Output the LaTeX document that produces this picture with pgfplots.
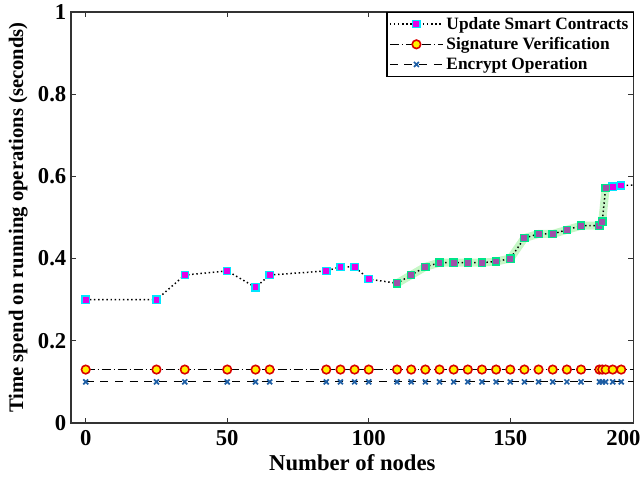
\documentclass[border=0pt]{standalone}
\usepackage{pgfplots}
\pgfplotsset{compat=1.18}
\usepackage{fontspec}
\setmainfont{Liberation Serif}
\definecolor{axgray}{HTML}{333333}
\definecolor{sqedge}{HTML}{00E5FF}
\definecolor{sqfill}{HTML}{E600E6}
\definecolor{hledge}{HTML}{00E58A}
\definecolor{hlfill}{HTML}{A050A8}
\definecolor{hlband}{HTML}{B8F5B8}
\definecolor{crossblue}{HTML}{1F5FA5}
\pgfplotstableread{
x y
0 0.30
25 0.30
35 0.36
50 0.37
60 0.33
65 0.36
85 0.37
90 0.38
95 0.38
100 0.35
110 0.34
115 0.36
120 0.38
125 0.39
130 0.39
135 0.39
140 0.39
145 0.393
150 0.40
155 0.45
160 0.46
165 0.46
170 0.47
175 0.48
181.5 0.48
182.5 0.49
183.7 0.572
186.2 0.575
189.2 0.578
200 0.58
}\smart
\pgfplotstableread{
x y
110 0.34
115 0.36
120 0.38
125 0.39
130 0.39
135 0.39
140 0.39
145 0.393
150 0.40
155 0.45
160 0.46
165 0.46
170 0.47
175 0.48
181.5 0.48
182.5 0.49
183.7 0.572
}\highlight
\pgfplotstableread{
x y
0 0.13
25 0.13
35 0.13
50 0.13
60 0.13
65 0.13
85 0.13
90 0.13
95 0.13
100 0.13
110 0.13
115 0.13
120 0.13
125 0.13
130 0.13
135 0.13
140 0.13
145 0.13
150 0.13
155 0.13
160 0.13
165 0.13
170 0.13
175 0.13
181.5 0.13
182.5 0.13
183.7 0.13
186.2 0.13
189.2 0.13
200 0.13
}\sig
\pgfplotstableread{
x y
0 0.10
25 0.10
35 0.10
50 0.10
60 0.10
65 0.10
85 0.10
90 0.10
95 0.10
100 0.10
110 0.10
115 0.10
120 0.10
125 0.10
130 0.10
135 0.10
140 0.10
145 0.10
150 0.10
155 0.10
160 0.10
165 0.10
170 0.10
175 0.10
181.5 0.10
182.5 0.10
183.7 0.10
186.2 0.10
189.2 0.10
200 0.10
}\enc
\begin{document}
\begin{tikzpicture}
\useasboundingbox (-53.25pt,-45.75pt) rectangle (429pt,317.25pt);
\begin{axis}[
  at={(0pt,0pt)}, anchor=south west,
  scale only axis,
  width=422pt, height=308.25pt,
  xmin=-5.2, xmax=193.6,
  ymin=0, ymax=1,
  xtick={0,50,100,150},
  ytick={0,0.2,0.4,0.6,0.8,1},
  extra x ticks={190},
  extra x tick labels={200},
  extra x tick style={major tick length=0pt},
  tick align=inside,
  tick pos=both,
  major tick length=4pt,
  axis line style={axgray, line width=1.2pt},
  tick style={axgray, line width=1pt},
  /pgf/number format/assume math mode=true,
  ticklabel style={font=\bfseries\fontsize{17}{17}\selectfont},
  xticklabel style={yshift=-2pt},
  xlabel={Number of nodes},
  ylabel={Time spend on running operations (seconds)},
  every axis x label/.style={at={(rel axis cs:0.5,0)}, anchor=center, yshift=-30pt,
    font=\bfseries\fontsize{17}{17}\selectfont},
  every axis y label/.style={at={(rel axis cs:0,0.5)}, anchor=center, xshift=-39.5pt, rotate=90,
    font=\bfseries\fontsize{15.5}{15.5}\selectfont},
  clip marker paths=true,
  legend style={at={(1,1)}, anchor=north east, draw=black, line width=0.8pt,
    font=\bfseries\fontsize{13}{13}\selectfont, inner sep=1.5pt,
    row sep=0.5pt, cells={anchor=west}},
  legend image code/.code={\draw[mark repeat=2,mark phase=2,#1] plot coordinates {(0pt,0pt) (20pt,0pt) (40pt,0pt)};},
]
\addplot[hlband, line width=6pt, opacity=0.8, forget plot] table[x=x,y=y] {\highlight};
\addplot[black, dotted, line width=1.1pt, mark=square*, mark size=2.7pt,
  mark options={solid, draw=sqedge, fill=sqfill, line width=1pt}] table[x=x,y=y] {\smart};
\addlegendentry{Update Smart Contracts}
\addplot[only marks, mark=square*, mark size=2.7pt, forget plot,
  mark options={solid, draw=hledge, fill=hlfill, line width=1pt}] table[x=x,y=y] {\highlight};
\addplot[black, dash pattern=on 7pt off 2pt on 1pt off 2pt, line width=0.9pt, mark=*, mark size=3.2pt,
  mark options={solid, draw=red!85!black, fill=yellow, line width=1.2pt}] table[x=x,y=y] {\sig};
\addlegendentry{Signature Verification}
\addplot[black, dash pattern=on 6pt off 5pt, line width=0.9pt, mark=x, mark size=2.6pt,
  mark options={solid, draw=crossblue, line width=1.3pt}] table[x=x,y=y] {\enc};
\addlegendentry{Encrypt Operation}
\end{axis}
\end{tikzpicture}
\end{document}
